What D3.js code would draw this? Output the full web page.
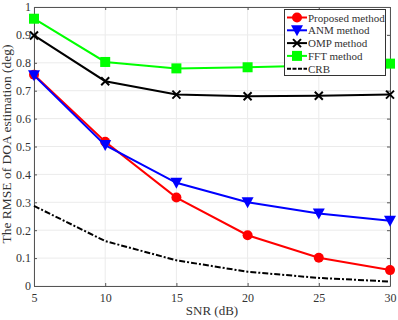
<!DOCTYPE html>
<html>
<head>
<meta charset="utf-8">
<script src="https://cdn.jsdelivr.net/npm/d3@7"></script>
<style>
  body { margin: 0; background: #fff; }
  text { font-family: "Liberation Serif", "DejaVu Serif", serif; fill: #333; }
</style>
</head>
<body>
<script>
const width = 398, height = 320,
    margin = {top: 7, right: 8, bottom: 34, left: 34};

const snr = [5, 10, 15, 20, 25, 30];
const proposed = [0.757, 0.517, 0.317, 0.182, 0.101, 0.057];
const anm = [0.755, 0.505, 0.37, 0.30, 0.26, 0.234];
const omp = [0.898, 0.734, 0.686, 0.680, 0.682, 0.686];
const fft = [0.958, 0.803, 0.780, 0.784, 0.790, 0.797];
const crb = [0.287, 0.161, 0.092, 0.051, 0.029, 0.016];
const xTicks = [5, 10, 15, 20, 25, 30];
const yTicks = [0, 0.1, 0.2, 0.3, 0.4, 0.5, 0.6, 0.7, 0.8, 0.9, 1];

const series = [
  {name: 'Proposed method', values: proposed, color: '#ff0000', marker: 'circle'},
  {name: 'ANM method', values: anm, color: '#0000ff', marker: 'triangle'},
  {name: 'OMP method', values: omp, color: '#000000', marker: 'cross'},
  {name: 'FFT method', values: fft, color: '#00ff00', marker: 'square'},
  {name: 'CRB', values: crb, color: '#000000', marker: null, dash: '6,2,2,2'}
];

let svg = d3.select('body').append('svg')
    .attr('width', width)
    .attr('height', height);

let x = d3.scaleLinear().domain([5, 30]).range([margin.left, width - margin.right]);
let y = d3.scaleLinear().domain([0, 1]).range([height - margin.bottom, margin.top]);

// grid
svg.append('g').selectAll('line.gx').data(xTicks).join('line')
    .attr('x1', d => x(d)).attr('x2', d => x(d))
    .attr('y1', y(0)).attr('y2', y(1))
    .attr('stroke', '#ebebeb').attr('stroke-width', 1);
svg.append('g').selectAll('line.gy').data(yTicks).join('line')
    .attr('x1', x(5)).attr('x2', x(30))
    .attr('y1', d => y(d)).attr('y2', d => y(d))
    .attr('stroke', '#ebebeb').attr('stroke-width', 1);

// axes
function styleAxis(g) {
  g.select('.domain').attr('stroke', '#555');
  g.selectAll('.tick line').attr('stroke', '#555');
  g.selectAll('.tick text').attr('font-size', 12).attr('fill', '#444')
    .attr('font-family', '"Liberation Serif", serif');
}
svg.append('g').attr('transform', `translate(0,${y(0)})`)
    .call(d3.axisBottom(x).tickValues(xTicks).tickSize(-3).tickSizeOuter(0).tickPadding(7))
    .call(styleAxis);
svg.append('g').attr('transform', `translate(0,${y(1)})`)
    .call(d3.axisTop(x).tickValues(xTicks).tickSize(-3).tickSizeOuter(0).tickFormat(''))
    .call(styleAxis);
svg.append('g').attr('transform', `translate(${x(5)},0)`)
    .call(d3.axisLeft(y).tickValues(yTicks).tickSize(-3).tickSizeOuter(0).tickPadding(3)
      .tickFormat(d => d === 0 || d === 1 ? d3.format('d')(d) : d3.format('.1f')(d)))
    .call(styleAxis);
svg.append('g').attr('transform', `translate(${x(30)},0)`)
    .call(d3.axisRight(y).tickValues(yTicks).tickSize(-3).tickSizeOuter(0).tickFormat(''))
    .call(styleAxis);

// labels
svg.append('text')
    .attr('x', (x(5) + x(30)) / 2).attr('y', height - 5)
    .attr('text-anchor', 'middle').attr('font-size', 13).attr('fill', '#444')
    .text('SNR (dB)');
svg.append('text')
    .attr('transform', `translate(10.5,144) rotate(-90)`)
    .attr('text-anchor', 'middle').attr('font-size', 13.5).attr('fill', '#444')
    .text('The RMSE of DOA estimation (deg)');

function drawMarker(g, type, color, cx, cy) {
  if (type === 'circle') {
    g.append('circle').attr('cx', cx).attr('cy', cy).attr('r', 5).attr('fill', color);
  } else if (type === 'square') {
    g.append('rect').attr('x', cx - 5).attr('y', cy - 5).attr('width', 10).attr('height', 10).attr('fill', color);
  } else if (type === 'triangle') {
    g.append('path').attr('d', `M${cx - 6},${cy - 5}L${cx + 6},${cy - 5}L${cx},${cy + 6}Z`).attr('fill', color);
  } else if (type === 'cross') {
    g.append('path').attr('d', `M${cx - 4},${cy - 4}L${cx + 4},${cy + 4}M${cx - 4},${cy + 4}L${cx + 4},${cy - 4}`)
      .attr('stroke', color).attr('stroke-width', 2);
  }
}

let line = d3.line().x((d, i) => x(snr[i])).y(d => y(d));

series.forEach(s => {
  let g = svg.append('g');
  g.append('path').datum(s.values)
    .attr('d', line)
    .attr('fill', 'none')
    .attr('stroke', s.color)
    .attr('stroke-width', 2)
    .attr('stroke-dasharray', s.dash || null);
  if (s.marker) s.values.forEach((v, i) => drawMarker(g, s.marker, s.color, x(snr[i]), y(v)));
});

// legend
let lg = svg.append('g');
lg.append('rect').attr('x', 284.5).attr('y', 9.5).attr('width', 101).attr('height', 66)
    .attr('fill', '#fff').attr('stroke', '#333').attr('stroke-width', 1);
series.forEach((s, i) => {
  let ly = 17.5 + i * 12.8;
  lg.append('line').attr('x1', 287).attr('x2', 307).attr('y1', ly).attr('y2', ly)
    .attr('stroke', s.color).attr('stroke-width', 2)
    .attr('stroke-dasharray', s.dash ? '4,1.5' : null);
  if (s.marker) drawMarker(lg, s.marker, s.color, 297, ly);
  lg.append('text').attr('x', 308).attr('y', ly + 4).attr('font-size', 11).attr('fill', '#222').text(s.name);
});
</script>
</body>
</html>
